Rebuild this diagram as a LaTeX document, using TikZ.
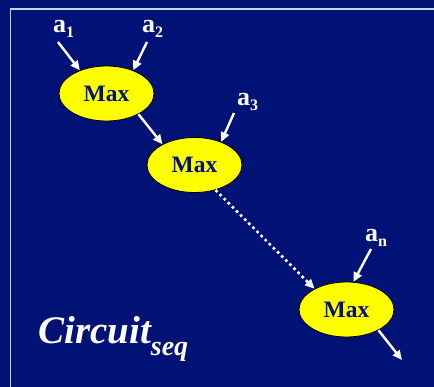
\documentclass[tikz,border=0pt]{standalone}
\usepackage{fontspec}
\setmainfont{Liberation Serif}
\usetikzlibrary{arrows.meta,shapes.geometric}
\definecolor{bgnavy}{RGB}{0,18,118}
\definecolor{framecol}{RGB}{200,210,235}
\definecolor{maxyellow}{RGB}{255,255,0}
\tikzset{
  maxnode/.style={ellipse, draw=black, line width=0.8pt, fill=maxyellow, minimum width=95pt, minimum height=55pt, inner sep=0pt, text=bgnavy, font=\bfseries\fontsize{23.5}{23.5}\selectfont},
  lbl/.style={anchor=base west, inner sep=0pt, text=white, font=\bfseries\fontsize{26}{26}\selectfont},
  warrow/.style={draw=white, line width=2.4pt, -{Triangle[length=9.5pt,width=8.5pt]}},
  darrow/.style={draw=white, line width=2.6pt, dash pattern=on 2.6pt off 3.2pt, -{Triangle[length=9.5pt,width=8.5pt]}}
}
\newcommand{\subsc}[1]{\raisebox{-5pt}{\fontsize{16}{16}\selectfont #1}}
\begin{document}
\begin{tikzpicture}[x=1pt,y=-1pt]
\fill[bgnavy] (0,0) rectangle (434,387);
\useasboundingbox (0,0) rectangle (434,387);
\draw[framecol, line width=1.1pt] (10.3,387) -- (10.3,9) -- (434,9);

\node[maxnode] (e1) at (106.5,93.5) {Max};
\node[maxnode] (e2) at (194.5,165) {Max};
\node[maxnode] (e3) at (346.5,309.5) {Max};

\node[lbl] (a1) at (53,33) {a\subsc{1}};
\node[lbl] (a2) at (142,33) {a\subsc{2}};
\node[lbl] (a3) at (237,106) {a\subsc{3}};
\node[lbl] (an) at (365,242) {a\subsc{n}};

\coordinate (s1) at (58,42);
\coordinate (s2) at (147,42);
\coordinate (s3) at (234,113);
\coordinate (sn) at (371,249);
\coordinate (out) at (402,360);

\draw[warrow] (s1) -- (e1.139);
\draw[warrow] (s2) -- (e1.41);
\draw[warrow] (e1.-33) -- (e2.147);
\draw[warrow] (s3) -- (e2.41);
\draw[darrow] (e2.-50) -- (e3.147);
\draw[warrow] (sn) -- (e3.76);
\draw[warrow] (e3.-33) -- (out);

\node[anchor=base west, inner sep=0pt, text=white, font=\bfseries\itshape\fontsize{39}{39}\selectfont] (title) at (38,344) {Circuit\raisebox{-12pt}{\fontsize{28}{28}\selectfont seq}};
\end{tikzpicture}
\end{document}
